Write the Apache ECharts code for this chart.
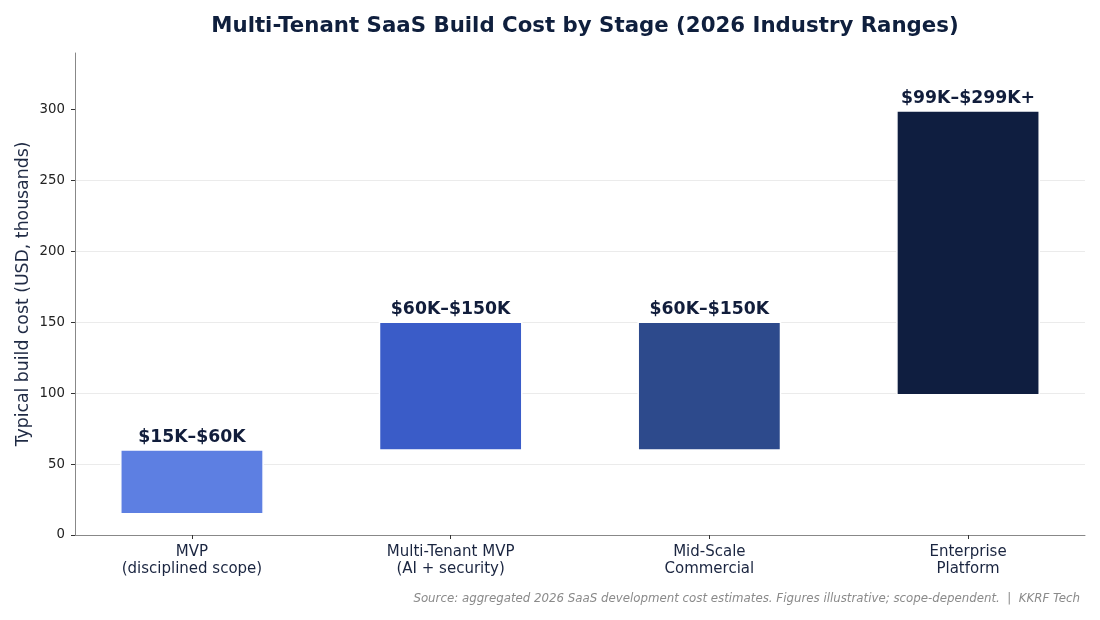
<!DOCTYPE html>
<html>
<head>
<meta charset="utf-8">
<script src="https://cdn.jsdelivr.net/npm/echarts@6/dist/echarts.min.js"></script>
<style>
  html, body { margin: 0; padding: 0; background: #fff; }
  #chart { width: 1100px; height: 620px; }
</style>
</head>
<body>
<div id="chart"></div>
<script>
// stages and their cost ranges (USD, thousands)
const stages = ['MVP\n(disciplined scope)', 'Multi-Tenant MVP\n(AI + security)', 'Mid-Scale\nCommercial', 'Enterprise\nPlatform']
const lowCost = [15, 60, 60, 99]
const highCost = [60, 150, 150, 299]
const rangeLabels = ['$15K–$60K', '$60K–$150K', '$60K–$150K', '$99K–$299K+']
const barColors = ['#5d7fe2', '#3a5cc8', '#2d4a8c', '#0f1e40']
const yTicks = [0, 50, 100, 150, 200, 250, 300]

const seriesData = stages.map((s, i) => [i, lowCost[i], highCost[i]])

const renderBar = (params, api) => {
  const i = api.value(0)
  const top = api.coord([i, api.value(2)])
  const bottom = api.coord([i, api.value(1)])
  const w = api.size([0.55, 0])[0]
  return {
    type: 'group',
    children: [{
      type: 'rect',
      shape: { x: top[0] - w / 2, y: top[1], width: w, height: bottom[1] - top[1] },
      style: { fill: barColors[i], stroke: '#ffffff', lineWidth: 1.5 }
    }, {
      type: 'text',
      x: top[0],
      y: top[1] - 4,
      style: {
        text: rangeLabels[i],
        align: 'center',
        verticalAlign: 'bottom',
        fill: '#111d3b',
        font: 'bold 17.3px "DejaVu Sans"'
      }
    }]
  }
}

const chart = echarts.init(document.getElementById('chart'))
chart.setOption({
  animation: false,
  textStyle: { fontFamily: 'DejaVu Sans' },
  title: {
    text: 'Multi-Tenant SaaS Build Cost by Stage (2026 Industry Ranges)',
    left: 580,
    textAlign: 'center',
    top: 11,
    textStyle: { fontSize: 21.3, fontWeight: 'bold', color: '#0f1f3d', fontFamily: 'DejaVu Sans' }
  },
  graphic: [{
    type: 'text',
    right: 20,
    top: 593,
    style: {
      text: 'Source: aggregated 2026 SaaS development cost estimates. Figures illustrative; scope-dependent.  |  KKRF Tech',
      fill: '#8a8a8a',
      font: 'italic 11.8px "DejaVu Sans"'
    }
  }],
  grid: { left: 75, right: 15, top: 53, bottom: 85 },
  xAxis: {
    type: 'value',
    min: -0.452,
    max: 3.452,
    axisLine: { show: true, onZero: false, lineStyle: { color: '#888' } },
    axisTick: { show: true, length: 4, lineStyle: { color: '#333' }, customValues: [0, 1, 2, 3] },
    splitLine: { show: false },
    axisLabel: {
      customValues: [0, 1, 2, 3],
      formatter: v => stages[Math.round(v)],
      color: '#1a2540',
      fontSize: 15,
      lineHeight: 17,
      margin: 9
    }
  },
  yAxis: {
    type: 'value',
    min: 0,
    max: 340,
    interval: 50,
    name: 'Typical build cost (USD, thousands)',
    nameLocation: 'middle',
    nameGap: 43,
    nameMoveOverlap: false,
    nameTextStyle: { fontSize: 17.3, color: '#1f2a44' },
    axisLine: { show: true, onZero: false, lineStyle: { color: '#888' } },
    axisTick: { show: true, length: 4, lineStyle: { color: '#333' }, customValues: yTicks },
    axisLabel: { customValues: yTicks, color: '#222', fontSize: 13.3, margin: 10 },
    splitLine: { show: true, showMaxLine: false, lineStyle: { color: '#ebebeb', width: 1 } }
  },
  series: [{
    type: 'custom',
    renderItem: renderBar,
    data: seriesData,
    encode: { x: 0, y: [1, 2] },
    z: 3
  }]
})
</script>
</body>
</html>
